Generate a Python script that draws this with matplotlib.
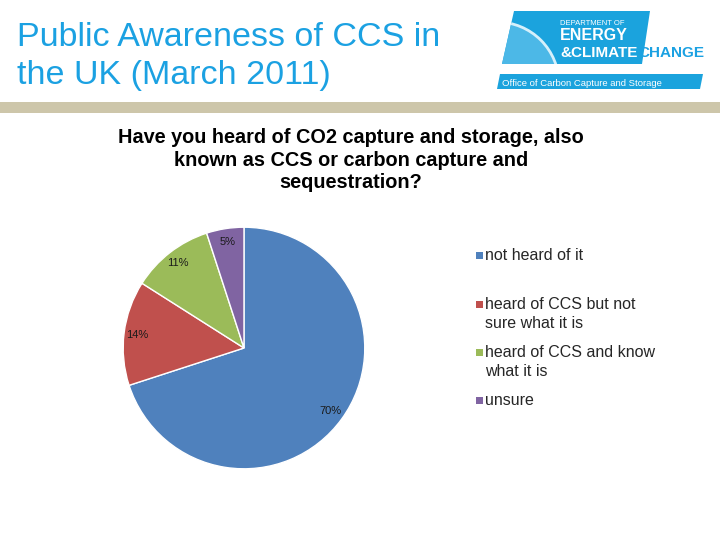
import matplotlib
matplotlib.use('Agg')
import matplotlib.pyplot as plt
from matplotlib.patches import Polygon, Rectangle, Circle

plt.rcParams['font.family'] = ['Liberation Sans', 'DejaVu Sans']

TITLE = "Public Awareness of CCS in\nthe UK (March 2011)"
QUESTION = ("Have you heard of CO2 capture and storage, also\n"
            "known as CCS or carbon capture and\nsequestration?")
categories = ["not heard of it",
              "heard of CCS but not\nsure what it is",
              "heard of CCS and know\nwhat it is",
              "unsure"]
values = [70, 14, 11, 5]
colors = ['#4F81BD', '#C0504D', '#9BBB59', '#8064A2']

BLUE = '#1BA1E2'

fig = plt.figure(figsize=(7.2, 5.4), dpi=100)
fig.patch.set_facecolor('white')

# header overlay in pixel coordinates
bg = fig.add_axes([0, 0, 1, 1])
bg.set_xlim(0, 720)
bg.set_ylim(540, 0)
bg.axis('off')

bg.text(17, 22, TITLE, fontsize=24.5, color=BLUE, va='top', ha='left',
        linespacing=1.3)
bg.add_patch(Rectangle((0, 102), 720, 11, color='#CDC6AA', lw=0))

# logo
logo = Polygon([(514, 11), (650, 11), (642, 64), (502, 64)],
               closed=True, color='#1BA3DD', lw=0)
bg.add_patch(logo)
glow = Circle((497, 84), 62, fc='#4CB8E7', ec='#D6F0FB', lw=2)
bg.add_patch(glow)
glow.set_clip_path(logo)
bg.add_patch(Polygon([(500, 74), (703, 74), (700, 89), (497, 89)],
                     closed=True, color='#1BA3DD', lw=0))
bg.text(560, 25, "DEPARTMENT OF", fontsize=5.5, color='white', va='baseline')
bg.text(560, 40.5, "ENERGY", fontsize=11.5, fontweight='bold', color='white',
        va='baseline')
bg.text(560, 57, "&CLIMATE", fontsize=11, fontweight='bold', color='white',
        va='baseline')
bg.text(638, 57, "CHANGE", fontsize=11, fontweight='bold', color=BLUE,
        va='baseline')
bg.text(502, 85.5, "Office of Carbon Capture and Storage", fontsize=6.8,
        color='white', va='baseline')

bg.text(351, 128, QUESTION, fontsize=14.3, fontweight='bold', color='black',
        ha='center', va='top', linespacing=1.25)

# pie
ax = fig.add_axes([0.1694, 0.1296, 0.3389, 0.4519])
ax.pie(values, colors=colors, startangle=90, counterclock=False,
       autopct='%d%%', pctdistance=0.89,
       wedgeprops=dict(edgecolor='white', linewidth=1),
       textprops=dict(fontsize=8, color='#1a1a1a'))
ax.set_xlim(-1.01, 1.01)
ax.set_ylim(-1.01, 1.01)
ax.set_aspect('equal')

# legend
legend_y = [248, 297, 345, 393]
for cat, col, y in zip(categories, colors, legend_y):
    bg.add_patch(Rectangle((476, y + 4), 7, 7, color=col, lw=0))
    bg.text(485, y, cat, fontsize=11.5, color='#262626', va='top', ha='left',
            linespacing=1.3)

fig.savefig('out.png', dpi=100)
